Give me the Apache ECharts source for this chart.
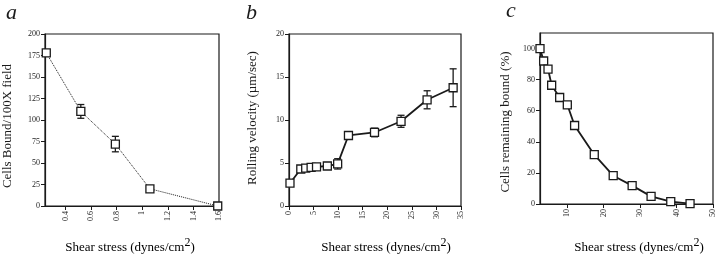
<!DOCTYPE html>
<html>
<head>
<meta charset="utf-8">
<script src="https://cdn.jsdelivr.net/npm/echarts@6/dist/echarts.min.js"></script>
<style>
html, body { margin: 0; padding: 0; background: #fff; }
#main { width: 720px; height: 258px; }
</style>
</head>
<body>
<div id="main"></div>
<script>
// a - cells bound vs shear stress
var aStress = [0.25, 0.52, 0.79, 1.06, 1.59]
var aCells = [178, 110, 72, 20, 0]
var aErr = [2, 8, 9, 1, 1]
var aTicks = [0.4, 0.6, 0.8, 1, 1.2, 1.4, 1.6]

// b - rolling velocity vs shear stress
var bStress = [0.2, 2.4, 3.4, 4.5, 5.6, 7.8, 9.9, 12.1, 17.4, 22.8, 28.1, 33.4]
var bVelocity = [2.65, 4.3, 4.4, 4.5, 4.55, 4.65, 4.9, 8.2, 8.55, 9.85, 12.35, 13.75]
var bErr = [0.2, 0.15, 0.1, 0.1, 0.1, 0.15, 0.6, 0.2, 0.5, 0.7, 1.05, 2.2]

// c - % remaining bound vs shear stress
var cStress = [2.5, 3.5, 4.7, 5.7, 7.9, 10, 12, 17.4, 22.6, 27.8, 33, 38.4, 43.7]
var cBound = [100, 92, 86.8, 76.4, 68.5, 63.8, 50.5, 31.7, 18.2, 11.8, 4.9, 1.5, 0.3]
var cXTicks = [10, 20, 30, 40, 50]
var cYTicks = [0, 20, 40, 60, 80, 100]

var serif = '"Liberation Serif", "DejaVu Serif", serif'
var ink = '#1a1a1a'

function pairs (xs, ys) {
  return xs.map(function (x, i) { return [x, ys[i]] })
}
function errData (xs, ys, es) {
  return xs.map(function (x, i) { return [x, ys[i] - es[i], ys[i] + es[i]] })
}

// error bar with caps
function errRender (params, api) {
  var x = api.value(0)
  var lo = api.coord([x, api.value(1)])
  var hi = api.coord([x, api.value(2)])
  var w = 3.5
  var st = { stroke: ink, lineWidth: 1.3 }
  return {
    type: 'group',
    children: [
      { type: 'line', shape: { x1: hi[0], y1: hi[1], x2: lo[0], y2: lo[1] }, style: st },
      { type: 'line', shape: { x1: hi[0] - w, y1: hi[1], x2: hi[0] + w, y2: hi[1] }, style: st },
      { type: 'line', shape: { x1: lo[0] - w, y1: lo[1], x2: lo[0] + w, y2: lo[1] }, style: st }
    ]
  }
}

var axisLine = { show: true, lineStyle: { color: ink, width: 1.2 } }
var axisTick = { show: true, length: 4, lineStyle: { color: ink, width: 1 } }
var labelStyle = { fontFamily: serif, fontSize: 8, color: '#222' }

function xAxis (idx, min, max, extra) {
  return Object.assign({
    type: 'value', gridIndex: idx, min: min, max: max,
    axisLine: axisLine, axisTick: axisTick, splitLine: { show: false },
    axisLabel: Object.assign({ rotate: 90, margin: 5 }, labelStyle)
  }, extra || {})
}
function yAxis (idx, min, max, extra) {
  return Object.assign({
    type: 'value', gridIndex: idx, min: min, max: max,
    axisLine: axisLine, axisTick: axisTick, splitLine: { show: false },
    axisLabel: Object.assign({ margin: 5 }, labelStyle)
  }, extra || {})
}

var gridBase = { show: true, borderColor: ink, borderWidth: 1.2, backgroundColor: 'transparent' }

function lineSeries (idx, data, width, type) {
  return {
    type: 'line', xAxisIndex: idx, yAxisIndex: idx, data: data, z: 3,
    symbol: 'rect', symbolSize: 8,
    itemStyle: { color: '#fff', borderColor: ink, borderWidth: 1.3 },
    lineStyle: { color: ink, width: width, type: type },
    animation: false
  }
}
function errSeries (idx, data) {
  return {
    type: 'custom', xAxisIndex: idx, yAxisIndex: idx, data: data, z: 2,
    renderItem: errRender, animation: false
  }
}

var titleRich = {
  t: { fontFamily: serif, fontSize: 13, color: ink, lineHeight: 16, verticalAlign: 'bottom' },
  sup: { fontFamily: serif, fontSize: 12, color: ink, lineHeight: 14, padding: [0, 0, 5, 0], verticalAlign: 'bottom' }
}

function titleX (x, y) {
  return {
    type: 'text', x: x, y: y,
    style: {
      text: '{t|Shear stress (dynes/cm}{sup|2}{t|)}',
      rich: titleRich, align: 'center', verticalAlign: 'middle'
    }
  }
}
function titleY (x, y, text) {
  return {
    type: 'text', x: x, y: y, rotation: Math.PI / 2,
    style: { text: text, font: '13px ' + serif, fill: ink, align: 'center', verticalAlign: 'middle' }
  }
}
function letter (x, y, text) {
  return {
    type: 'text', x: x, y: y,
    style: { text: text, font: 'italic 22px ' + serif, fill: ink, align: 'left', verticalAlign: 'top' }
  }
}

var option = {
  backgroundColor: '#fff',
  animation: false,
  grid: [
    Object.assign({ left: 45, top: 34, width: 174, height: 172 }, gridBase),
    Object.assign({ left: 289, top: 34, width: 172, height: 172 }, gridBase),
    Object.assign({ left: 540, top: 33, width: 173, height: 171 }, gridBase)
  ],
  xAxis: [
    xAxis(0, 0.24, 1.6, {
      axisTick: Object.assign({ customValues: aTicks }, axisTick),
      axisLabel: Object.assign({ rotate: 90, margin: 5, customValues: aTicks,
        formatter: function (v) { return String(Math.round(v * 10) / 10) } }, labelStyle)
    }),
    xAxis(1, 0, 35, { interval: 5 }),
    xAxis(2, 2.5, 50, {
      axisTick: Object.assign({ customValues: cXTicks }, axisTick),
      axisLabel: Object.assign({ rotate: 90, margin: 5, customValues: cXTicks }, labelStyle)
    })
  ],
  yAxis: [
    yAxis(0, 0, 200, { interval: 25 }),
    yAxis(1, 0, 20, { interval: 5 }),
    yAxis(2, 0, 110, {
      axisTick: Object.assign({ customValues: cYTicks }, axisTick),
      axisLabel: Object.assign({ margin: 5, customValues: cYTicks }, labelStyle)
    })
  ],
  series: [
    errSeries(0, errData(aStress, aCells, aErr)),
    lineSeries(0, pairs(aStress, aCells), 1, 'dotted'),
    errSeries(1, errData(bStress, bVelocity, bErr)),
    lineSeries(1, pairs(bStress, bVelocity), 1.8, 'solid'),
    lineSeries(2, pairs(cStress, cBound), 1.8, 'solid')
  ],
  graphic: [
    letter(6, 2, 'a'),
    letter(246, 2, 'b'),
    letter(506, 0, 'c'),
    titleY(8, 126, 'Cells Bound/100X field'),
    titleY(253, 118, 'Rolling velocity (µm/sec)'),
    titleY(506, 122, 'Cells remaining bound (%)'),
    titleX(130, 246),
    titleX(386, 246),
    titleX(639, 246)
  ]
}

var myChart = echarts.init(document.getElementById('main'))
myChart.setOption(option)
</script>
</body>
</html>
